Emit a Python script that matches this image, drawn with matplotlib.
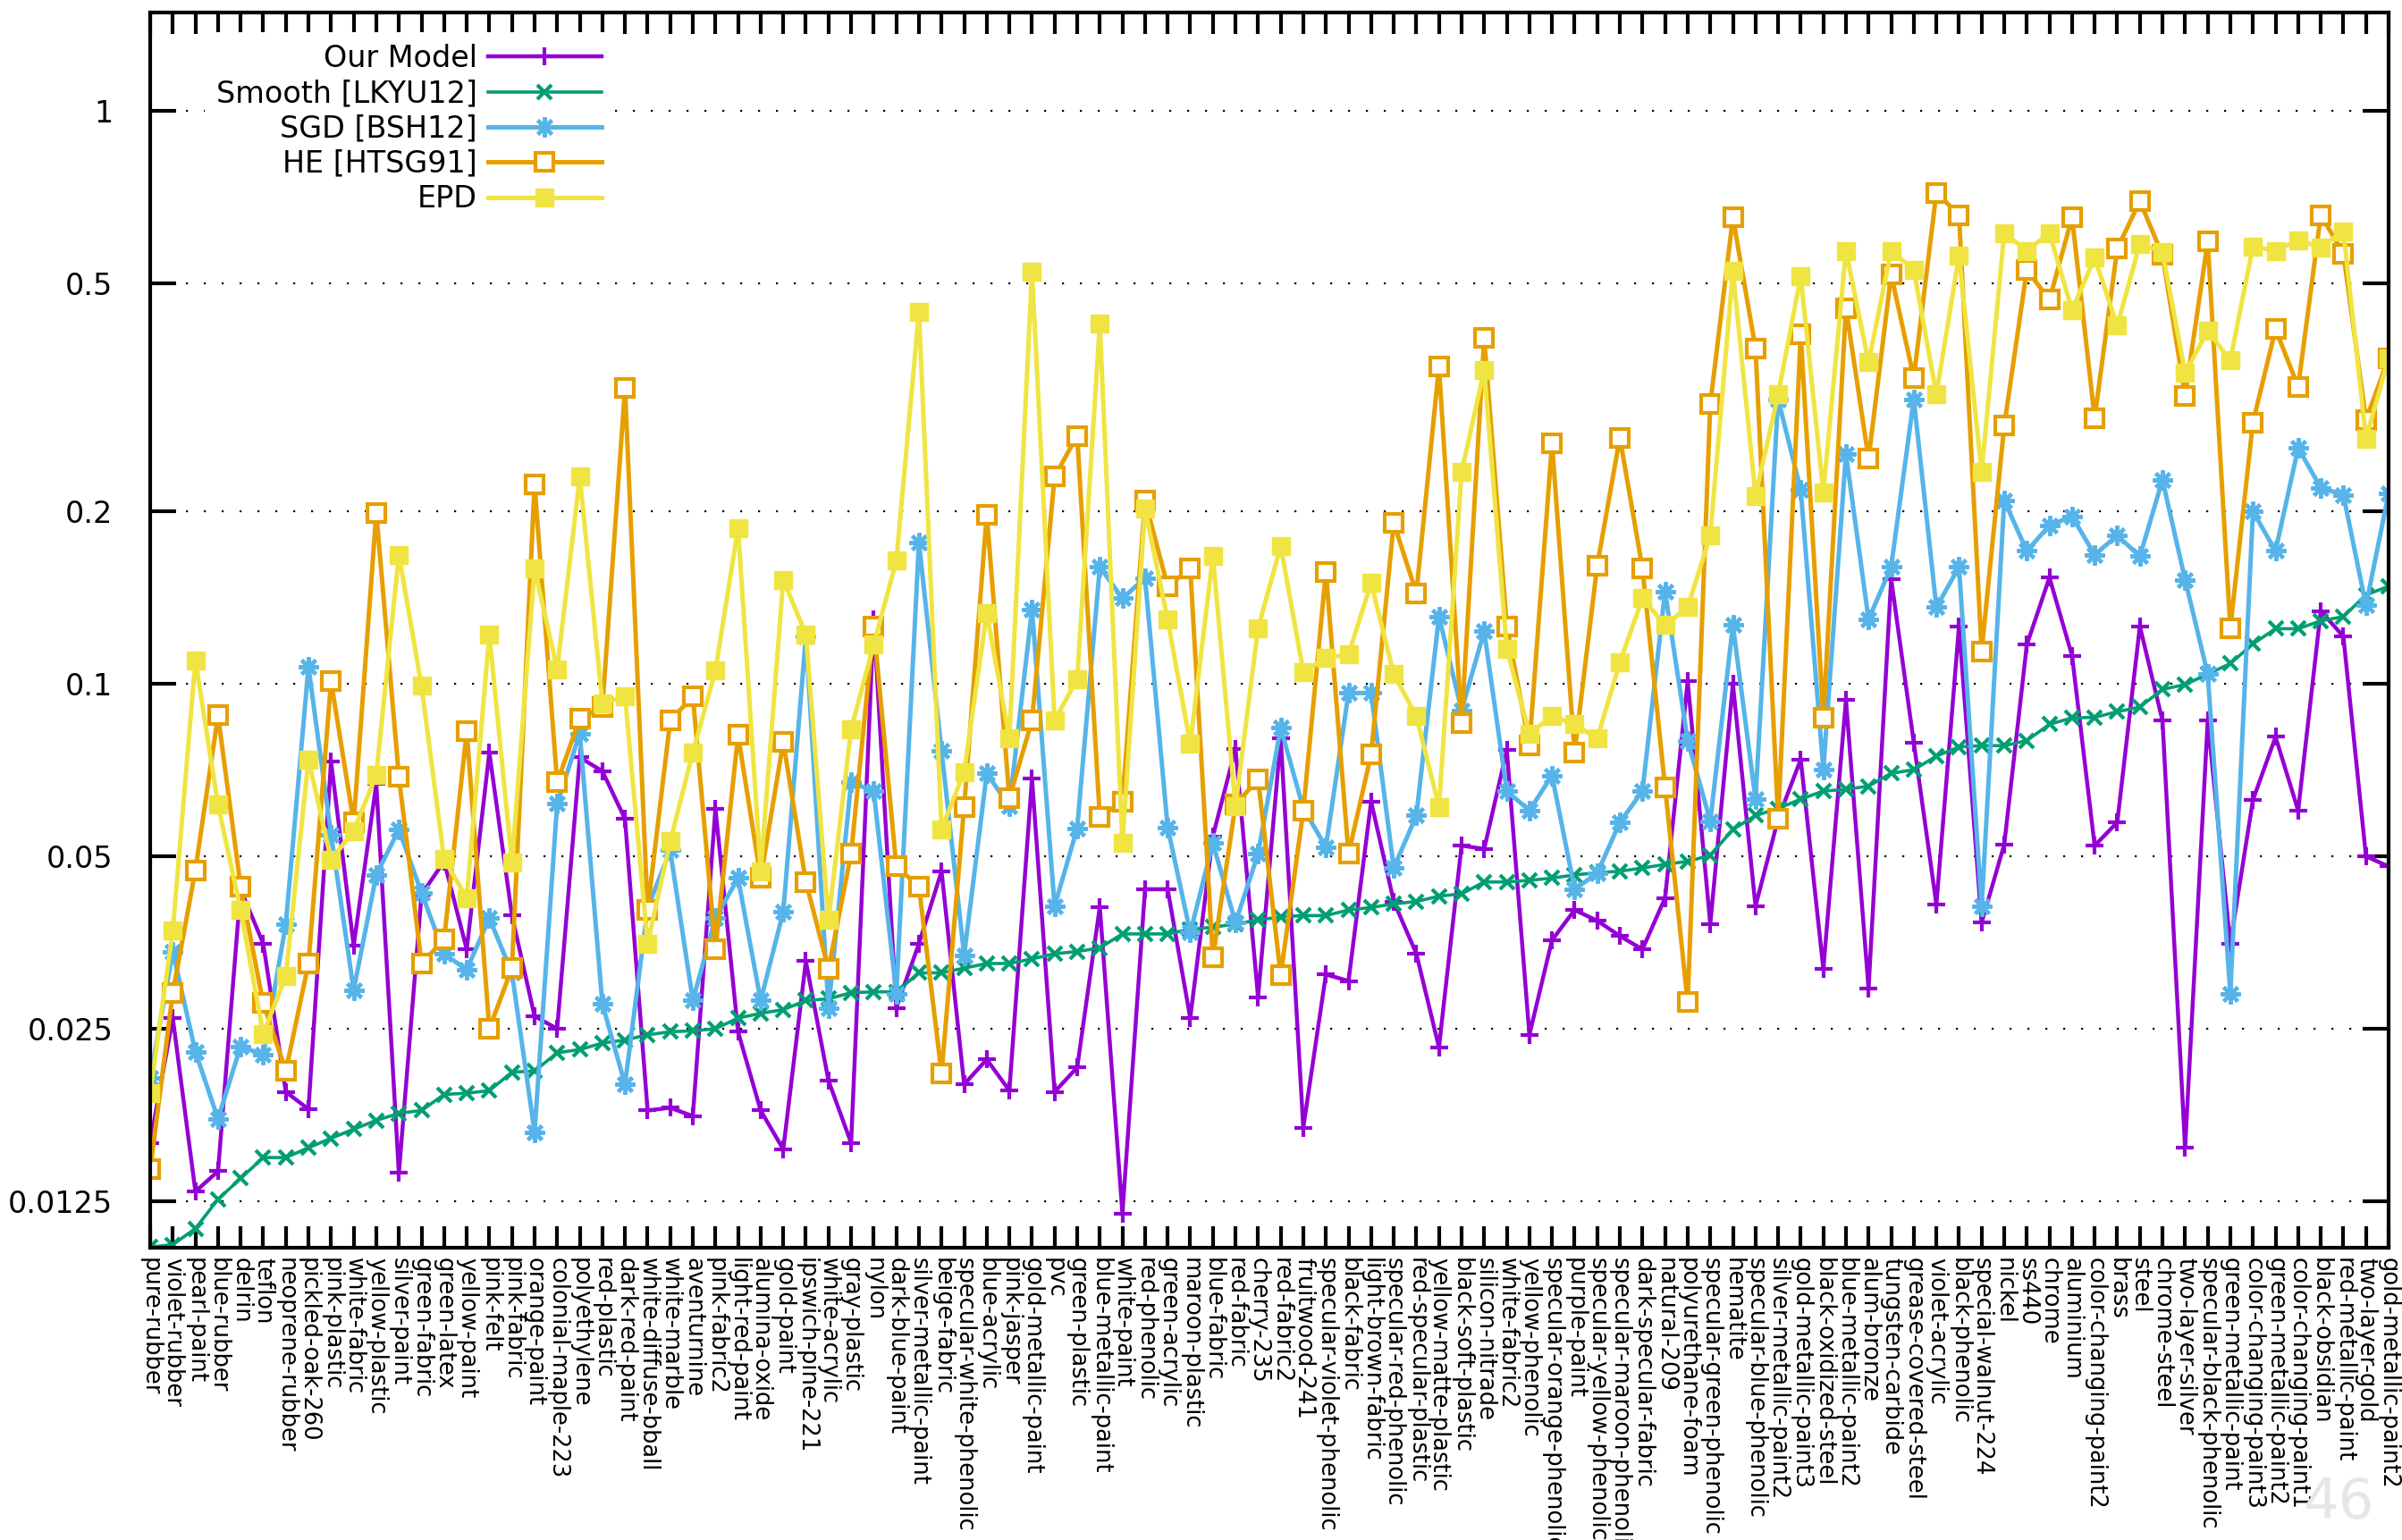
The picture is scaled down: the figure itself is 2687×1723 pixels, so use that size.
import matplotlib
matplotlib.use('Agg')
import matplotlib.pyplot as plt
import numpy as np

plt.rcParams['font.family'] = ['DejaVu Sans']

materials = [
    'pure-rubber', 'violet-rubber', 'pearl-paint', 'blue-rubber', 'delrin',
    'teflon', 'neoprene-rubber', 'pickled-oak-260', 'pink-plastic', 'white-fabric',
    'yellow-plastic', 'silver-paint', 'green-fabric', 'green-latex', 'yellow-paint',
    'pink-felt', 'pink-fabric', 'orange-paint', 'colonial-maple-223', 'polyethylene',
    'red-plastic', 'dark-red-paint', 'white-diffuse-bball', 'white-marble', 'aventurnine',
    'pink-fabric2', 'light-red-paint', 'alumina-oxide', 'gold-paint', 'ipswich-pine-221',
    'white-acrylic', 'gray-plastic', 'nylon', 'dark-blue-paint', 'silver-metallic-paint',
    'beige-fabric', 'specular-white-phenolic', 'blue-acrylic', 'pink-jasper', 'gold-metallic-paint',
    'pvc', 'green-plastic', 'blue-metallic-paint', 'white-paint', 'red-phenolic',
    'green-acrylic', 'maroon-plastic', 'blue-fabric', 'red-fabric', 'cherry-235',
    'red-fabric2', 'fruitwood-241', 'specular-violet-phenolic', 'black-fabric', 'light-brown-fabric',
    'specular-red-phenolic', 'red-specular-plastic', 'yellow-matte-plastic', 'black-soft-plastic', 'silicon-nitrade',
    'white-fabric2', 'yellow-phenolic', 'specular-orange-phenolic', 'purple-paint', 'specular-yellow-phenolic',
    'specular-maroon-phenolic', 'dark-specular-fabric', 'natural-209', 'polyurethane-foam', 'specular-green-phenolic',
    'hematite', 'specular-blue-phenolic', 'silver-metallic-paint2', 'gold-metallic-paint3', 'black-oxidized-steel',
    'blue-metallic-paint2', 'alum-bronze', 'tungsten-carbide', 'grease-covered-steel', 'violet-acrylic',
    'black-phenolic', 'special-walnut-224', 'nickel', 'ss440', 'chrome',
    'aluminium', 'color-changing-paint2', 'brass', 'steel', 'chrome-steel',
    'two-layer-silver', 'specular-black-phenolic', 'green-metallic-paint', 'color-changing-paint3', 'green-metallic-paint2',
    'color-changing-paint1', 'black-obsidian', 'red-metallic-paint', 'two-layer-gold', 'gold-metallic-paint2',
]

our_model = [
    0.0158, 0.0261, 0.0130, 0.0141, 0.0438, 0.0352, 0.0194, 0.0181, 0.0732, 0.0349,
    0.0669, 0.0140, 0.0429, 0.0490, 0.0344, 0.0759, 0.0394, 0.0263, 0.0250, 0.0744,
    0.0704, 0.0581, 0.0180, 0.0182, 0.0176, 0.0606, 0.0247, 0.0180, 0.0154, 0.0328,
    0.0203, 0.0158, 0.1295, 0.0272, 0.0352, 0.0471, 0.0200, 0.0221, 0.0195, 0.0684,
    0.0194, 0.0214, 0.0408, 0.0119, 0.0438, 0.0438, 0.0261, 0.0542, 0.0770, 0.0284,
    0.0803, 0.0168, 0.0311, 0.0303, 0.0623, 0.0417, 0.0338, 0.0232, 0.0522, 0.0515,
    0.0766, 0.0244, 0.0357, 0.0403, 0.0386, 0.0363, 0.0344, 0.0423, 0.1010, 0.0381,
    0.1000, 0.0409, 0.0581, 0.0738, 0.0318, 0.0937, 0.0294, 0.1525, 0.0790, 0.0412,
    0.1260, 0.0383, 0.0524, 0.1170, 0.1533, 0.1120, 0.0522, 0.0573, 0.1260, 0.0862,
    0.0155, 0.0862, 0.0352, 0.0627, 0.0808, 0.0601, 0.1340, 0.1210, 0.0500, 0.0480,
]

smooth = [
    0.0104, 0.0105, 0.0112, 0.0126, 0.0137, 0.0149, 0.0149, 0.0155, 0.0161, 0.0167,
    0.0173, 0.0178, 0.0180, 0.0192, 0.0193, 0.0195, 0.0210, 0.0211, 0.0227, 0.0230,
    0.0236, 0.0239, 0.0244, 0.0247, 0.0248, 0.0250, 0.0261, 0.0266, 0.0270, 0.0280,
    0.0282, 0.0289, 0.0290, 0.0290, 0.0313, 0.0313, 0.0319, 0.0325, 0.0325, 0.0331,
    0.0338, 0.0341, 0.0346, 0.0366, 0.0366, 0.0366, 0.0373, 0.0376, 0.0381, 0.0387,
    0.0392, 0.0394, 0.0394, 0.0403, 0.0407, 0.0413, 0.0417, 0.0426, 0.0430, 0.0451,
    0.0451, 0.0454, 0.0458, 0.0464, 0.0468, 0.0471, 0.0477, 0.0484, 0.0490, 0.0502,
    0.0557, 0.0589, 0.0606, 0.0629, 0.0650, 0.0654, 0.0663, 0.0698, 0.0708, 0.0748,
    0.0776, 0.0780, 0.0780, 0.0796, 0.0850, 0.0872, 0.0874, 0.0894, 0.0911, 0.0978,
    0.0997, 0.1040, 0.1085, 0.1174, 0.1248, 0.1248, 0.1288, 0.1310, 0.1430, 0.1480,
]

sgd = [
    0.0205, 0.0341, 0.0228, 0.0174, 0.0233, 0.0225, 0.0381, 0.1070, 0.0546, 0.0292,
    0.0464, 0.0557, 0.0432, 0.0338, 0.0317, 0.0390, 0.0313, 0.0165, 0.0618, 0.0819,
    0.0276, 0.0200, 0.0406, 0.0512, 0.0280, 0.0390, 0.0458, 0.0280, 0.0400, 0.1210,
    0.0272, 0.0673, 0.0650, 0.0288, 0.1765, 0.0764, 0.0336, 0.0698, 0.0611, 0.1350,
    0.0409, 0.0560, 0.1600, 0.1410, 0.1530, 0.0562, 0.0368, 0.0527, 0.0383, 0.0505,
    0.0838, 0.0606, 0.0519, 0.0964, 0.0964, 0.0477, 0.0589, 0.1310, 0.0899, 0.1235,
    0.0650, 0.0601, 0.0692, 0.0438, 0.0467, 0.0573, 0.0650, 0.1450, 0.0796, 0.0576,
    0.1266, 0.0629, 0.3140, 0.2180, 0.0708, 0.2520, 0.1295, 0.1600, 0.3140, 0.1360,
    0.1600, 0.0409, 0.2090, 0.1706, 0.1890, 0.1960, 0.1680, 0.1815, 0.1670, 0.2270,
    0.1520, 0.1040, 0.0288, 0.2000, 0.1706, 0.2580, 0.2200, 0.2137, 0.1370, 0.2150,
]

he = [
    0.0142, 0.0289, 0.0473, 0.0881, 0.0443, 0.0277, 0.0211, 0.0325, 0.1010, 0.0573,
    0.1990, 0.0688, 0.0325, 0.0358, 0.0826, 0.0250, 0.0319, 0.2230, 0.0673, 0.0869,
    0.0911, 0.3280, 0.0403, 0.0862, 0.0951, 0.0344, 0.0814, 0.0458, 0.0792, 0.0451,
    0.0318, 0.0505, 0.1260, 0.0480, 0.0443, 0.0209, 0.0610, 0.1975, 0.0632, 0.0862,
    0.2300, 0.2710, 0.0586, 0.0623, 0.2090, 0.1480, 0.1590, 0.0333, 0.0615, 0.0682,
    0.0310, 0.0601, 0.1570, 0.0505, 0.0753, 0.1910, 0.1440, 0.3580, 0.0854, 0.4010,
    0.1260, 0.0781, 0.2630, 0.0759, 0.1610, 0.2690, 0.1590, 0.0660, 0.0278, 0.3080,
    0.6520, 0.3850, 0.0581, 0.4070, 0.0874, 0.4530, 0.2470, 0.5180, 0.3420, 0.7200,
    0.6580, 0.1140, 0.2820, 0.5280, 0.4680, 0.6520, 0.2910, 0.5750, 0.6960, 0.5600,
    0.3185, 0.5910, 0.1250, 0.2860, 0.4160, 0.3300, 0.6580, 0.5640, 0.2890, 0.3700,
]

epd = [
    0.0193, 0.0371, 0.1100, 0.0615, 0.0403, 0.0245, 0.0309, 0.0738, 0.0493, 0.0554,
    0.0694, 0.1680, 0.0992, 0.0494, 0.0423, 0.1220, 0.0487, 0.1590, 0.1060, 0.2300,
    0.0924, 0.0951, 0.0352, 0.0531, 0.0759, 0.1055, 0.1870, 0.0471, 0.1520, 0.1220,
    0.0387, 0.0833, 0.1170, 0.1640, 0.4460, 0.0557, 0.0702, 0.1330, 0.0803, 0.5240,
    0.0862, 0.1020, 0.4255, 0.0527, 0.2020, 0.1295, 0.0785, 0.1670, 0.0611, 0.1250,
    0.1740, 0.1050, 0.1110, 0.1125, 0.1500, 0.1040, 0.0878, 0.0610, 0.2340, 0.3530,
    0.1150, 0.0819, 0.0878, 0.0850, 0.0803, 0.1090, 0.1410, 0.1266, 0.1360, 0.1815,
    0.5260, 0.2130, 0.3200, 0.5140, 0.2160, 0.5700, 0.3640, 0.5700, 0.5280, 0.3200,
    0.5590, 0.2340, 0.6120, 0.5700, 0.6120, 0.4490, 0.5540, 0.4220, 0.5860, 0.5670,
    0.3490, 0.4130, 0.3670, 0.5800, 0.5700, 0.5950, 0.5780, 0.6170, 0.2680, 0.3700,
]

yticks = [0.0125, 0.025, 0.05, 0.1, 0.2, 0.5, 1]
ytick_labels = ['0.0125', '0.025', '0.05', '0.1', '0.2', '0.5', '1']

W, H = 2687, 1723
fig = plt.figure(figsize=(W / 100, H / 100), dpi=100)
ax = fig.add_axes([168 / W, 1 - 1396 / H, (2672 - 168) / W, (1396 - 14) / H])

x = np.arange(len(materials))
ax.plot(x, our_model, color='#9400d3', lw=3.2, marker='+', ms=14, mew=3,
        label='Our Model')
ax.plot(x, smooth, color='#009e73', lw=2.6, marker='x', ms=11, mew=3,
        label='Smooth [LKYU12]')
ax.plot(x, sgd, color='#56b4e9', lw=3.6, marker=(8, 2, 0), ms=16, mew=3,
        label='SGD [BSH12]')
ax.plot(x, he, color='#e69f00', lw=3.6, marker='s', ms=14, mfc='white', mew=3,
        label='HE [HTSG91]')
ax.plot(x, epd, color='#f0e442', lw=3.6, marker='s', ms=15,
        label='EPD')

ax.set_yscale('log')
ax.set_ylim(0.01037, 1.485)
ax.set_xlim(0, len(materials) - 1)
ax.set_yticks(yticks)
ax.set_yticklabels(ytick_labels)
ax.minorticks_off()
ax.set_xticks(x)
ax.set_xticklabels(materials, rotation=-90, fontsize=18.5)

# gnuplot-style inward ticks mirrored on all four sides
ax.xaxis.set_ticks_position('both')
ax.yaxis.set_ticks_position('both')
ax.tick_params(axis='x', which='major', direction='in', length=17, width=3,
               bottom=True, top=True, labelbottom=True, labeltop=False, pad=8)
ax.tick_params(axis='y', which='major', direction='in', length=21, width=3,
               left=True, right=True, labelleft=True, labelright=False,
               labelsize=24, pad=30)
ax.grid(axis='y', linestyle=(0, (1, 8)), color='black', lw=1.6)
for s in ax.spines.values():
    s.set_linewidth(3)

leg = ax.legend(loc='upper right', bbox_to_anchor=(0.2069, 0.9844),
                markerfirst=False, fontsize=24, handlelength=3.8,
                handletextpad=0.36, labelspacing=0.19, borderaxespad=0,
                borderpad=0.4, fancybox=False, framealpha=1,
                edgecolor='none', facecolor='white')

fig.text(2617 / W, 1 - 1682 / H, '46', fontsize=45, color='#e6e6e6',
         ha='center', va='center')

fig.savefig('out.png', dpi=100)
